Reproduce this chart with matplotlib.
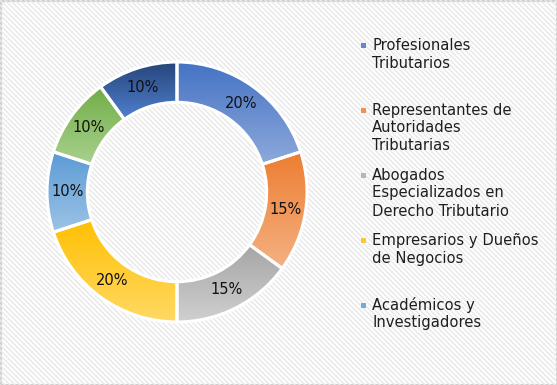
import numpy as np
import matplotlib
matplotlib.use('Agg')
import matplotlib.pyplot as plt
from matplotlib.colors import LinearSegmentedColormap
from matplotlib.patches import Rectangle

# datos
etiquetas = ['Profesionales\nTributarios',
             'Representantes de\nAutoridades\nTributarias',
             'Abogados\nEspecializados en\nDerecho Tributario',
             'Empresarios y Dueños\nde Negocios',
             'Académicos y\nInvestigadores',
             'Otros 1',
             'Otros 2']
valores = [20, 15, 15, 20, 10, 10, 10]
n_leyenda = 5  # solo se ven 5 entradas en la leyenda

# colores arriba / abajo del degradado
c_arriba = ['#4472C4', '#ED7D31', '#A5A5A5', '#FFC000', '#5B9BD5', '#70AD47', '#264478']
c_abajo = ['#8EA9DB', '#F4B183', '#D0D0D0', '#FFD966', '#9DC3E6', '#A9D18E', '#5080CF']

W, H = 557, 385
fig = plt.figure(figsize=(W / 100, H / 100), dpi=100)
fig.patch.set_facecolor('white')

# fondo rayado
bg = fig.add_axes([0, 0, 1, 1], zorder=0)
bg.set_xlim(0, W)
bg.set_ylim(0, H)
bg.axis('off')
for c in np.arange(0, W + H + 10, 5.0):
    bg.plot([c - H - 5, c + 5], [H + 5, -5], color='#e9e9e9', lw=1.1,
            solid_capstyle='butt')
bg.add_patch(Rectangle((0.5, 0.5), W - 1, H - 1, facecolor='none',
                       edgecolor='#d0d0d0', lw=1.5))

cx, cy, r = 177, 385 - 192, 130
ax = fig.add_axes([(cx - r) / W, (cy - r) / H, 2 * r / W, 2 * r / H], zorder=1)
ax.set_facecolor('none')

wedges, textos, autotextos = ax.pie(
    valores, startangle=90, counterclock=False, radius=1,
    autopct='%1.0f%%', pctdistance=0.845,
    wedgeprops=dict(width=0.31, edgecolor='white', linewidth=2.2),
    textprops=dict(fontsize=10.5, color='#111111'))

grad = np.linspace(0, 1, 256).reshape(-1, 1)
for w, ca, cb in zip(wedges, c_arriba, c_abajo):
    w.set_facecolor('none')
    w.set_zorder(3)
    cmap = LinearSegmentedColormap.from_list('g', [cb, ca])
    th = np.deg2rad(np.linspace(w.theta1, w.theta2, 100))
    xs = np.concatenate([np.cos(th), 0.69 * np.cos(th)])
    ys = np.concatenate([np.sin(th), 0.69 * np.sin(th)])
    im = ax.imshow(grad, cmap=cmap, origin='lower', aspect='auto',
                   extent=[xs.min(), xs.max(), ys.min(), ys.max()], zorder=2)
    im.set_clip_path(w)
for t in autotextos:
    t.set_zorder(5)

ax.set_xlim(-1, 1)
ax.set_ylim(-1, 1)
ax.axis('off')

# leyenda manual
y0 = 45
paso = 65
salto = 18
for i in range(n_leyenda):
    y = y0 + i * paso
    col = LinearSegmentedColormap.from_list('g', [c_abajo[i], c_arriba[i]])(0.6)
    fig.patches.append(Rectangle((361 / W, (H - y - 2.5) / H), 5 / W, 5 / H,
                                 transform=fig.transFigure, facecolor=col,
                                 edgecolor='none', zorder=3))
    for j, linea in enumerate(etiquetas[i].split('\n')):
        fig.text(372 / W, (H - y - j * salto) / H, linea, fontsize=10.6,
                 color='#1e1e1e', ha='left', va='center', zorder=3)

fig.savefig('out.png', dpi=100)
